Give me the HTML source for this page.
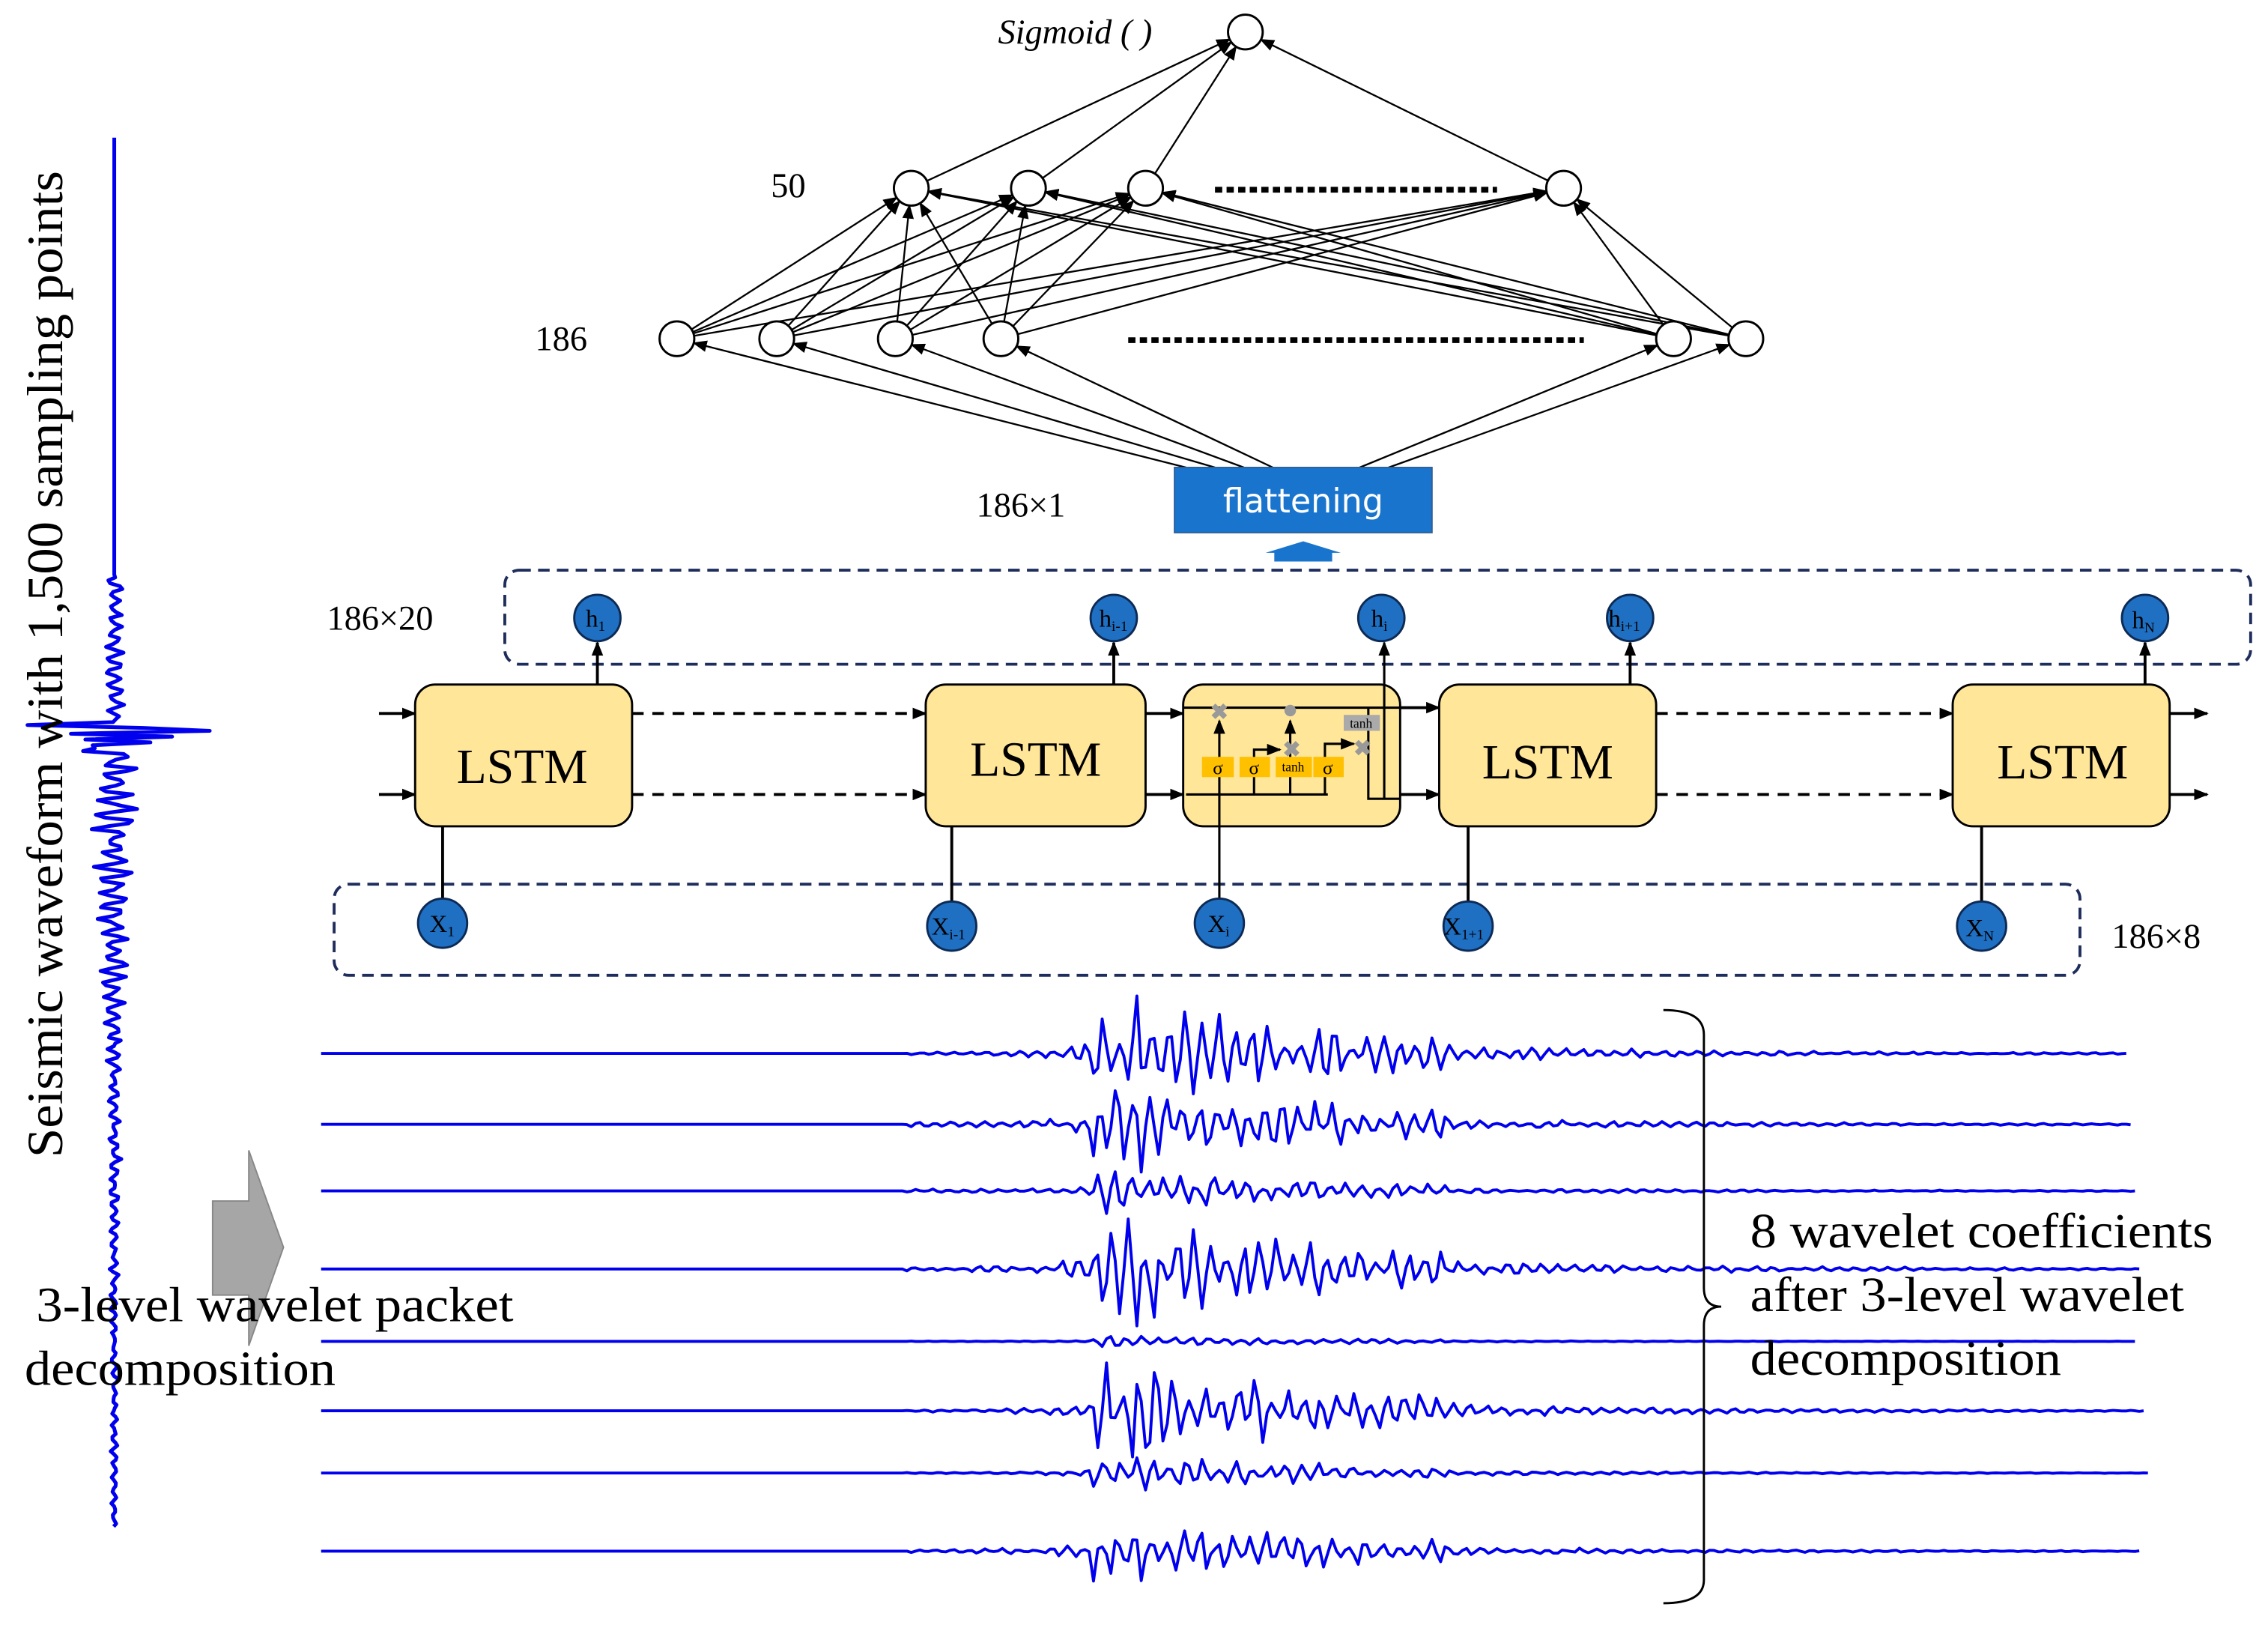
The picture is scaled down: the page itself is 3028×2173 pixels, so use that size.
<!DOCTYPE html>
<html><head><meta charset="utf-8"><style>
html,body{margin:0;padding:0;background:#fff;}
svg{display:block}
text{font-family:"Liberation Serif",serif;}
</style></head><body>
<svg id="s" width="3028" height="2173" viewBox="0 0 1568 1125" xmlns="http://www.w3.org/2000/svg">
<defs>
<marker id="a" markerWidth="10" markerHeight="8" refX="9" refY="4" orient="auto" markerUnits="userSpaceOnUse"><path d="M0,0 L10,4 L0,8 z" fill="#000"/></marker>
</defs>
<g id="net" stroke="#000" stroke-width="1.2" fill="none"></g>
<g id="waves" stroke="#0000ee" fill="none" stroke-linejoin="round"></g>

<g fill="#fff" stroke="#000" stroke-width="1.5">
<circle cx="861" cy="22" r="12"/>
<circle cx="630" cy="130" r="12"/><circle cx="711" cy="130" r="12"/><circle cx="792" cy="130" r="12"/><circle cx="1081" cy="130" r="12"/>
<circle cx="468" cy="234" r="12"/><circle cx="537" cy="234" r="12"/><circle cx="619" cy="234" r="12"/><circle cx="692" cy="234" r="12"/><circle cx="1157" cy="234" r="12"/><circle cx="1207" cy="234" r="12"/>
</g>
<line x1="840" y1="131" x2="1035" y2="131" stroke="#000" stroke-width="4" stroke-dasharray="5,3"/>
<line x1="780" y1="235" x2="1095" y2="235" stroke="#000" stroke-width="4" stroke-dasharray="5,3"/>
<text x="690" y="30" font-size="24" font-style="italic">Sigmoid ( )</text>
<text x="533" y="136" font-size="24">50</text>
<text x="370" y="242" font-size="24">186</text>
<text x="675" y="357" font-size="24">186×1</text>
<rect x="812" y="323" width="178" height="45" fill="#1874cd" stroke="#2e5f99"/>
<text x="901" y="354" font-size="23" fill="#fff" text-anchor="middle" style="font-family:'DejaVu Sans',sans-serif">flattening</text>
<path d="M881,388 L881,382 L875,382 L901,374 L927,382 L921,382 L921,388 z" fill="#1874cd"/>

<rect x="349" y="394" width="1207" height="65" rx="10" fill="none" stroke="#1f2d5c" stroke-width="2" stroke-dasharray="8,5"/>
<rect x="231" y="611" width="1207" height="63" rx="10" fill="none" stroke="#1f2d5c" stroke-width="2" stroke-dasharray="8,5"/>
<text x="226" y="435" font-size="24">186×20</text>
<text x="1460" y="655" font-size="24">186×8</text>

<g stroke="#000" stroke-width="2" fill="none">
<line x1="262" y1="493" x2="287" y2="493" marker-end="url(#a)"/>
<line x1="262" y1="549" x2="287" y2="549" marker-end="url(#a)"/>
<line x1="437" y1="493" x2="640" y2="493" stroke-dasharray="8,6" marker-end="url(#a)"/>
<line x1="437" y1="549" x2="640" y2="549" stroke-dasharray="8,6" marker-end="url(#a)"/>
<line x1="792" y1="493" x2="818" y2="493" marker-end="url(#a)"/>
<line x1="792" y1="549" x2="818" y2="549" marker-end="url(#a)"/>
<line x1="968" y1="489" x2="995" y2="489" marker-end="url(#a)"/>
<line x1="968" y1="549" x2="995" y2="549" marker-end="url(#a)"/>
<line x1="1145" y1="493" x2="1350" y2="493" stroke-dasharray="8,6" marker-end="url(#a)"/>
<line x1="1145" y1="549" x2="1350" y2="549" stroke-dasharray="8,6" marker-end="url(#a)"/>
<line x1="1500" y1="493" x2="1526" y2="493" marker-end="url(#a)"/>
<line x1="1500" y1="549" x2="1526" y2="549" marker-end="url(#a)"/>
<line x1="413" y1="473" x2="413" y2="444" marker-end="url(#a)"/>
<line x1="770" y1="473" x2="770" y2="444" marker-end="url(#a)"/>
<line x1="1127" y1="473" x2="1127" y2="444" marker-end="url(#a)"/>
<line x1="1483" y1="473" x2="1483" y2="444" marker-end="url(#a)"/>
<line x1="306" y1="571" x2="306" y2="624"/>
<line x1="658" y1="571" x2="658" y2="624"/>
<line x1="1015" y1="571" x2="1015" y2="624"/>
<line x1="1370" y1="571" x2="1370" y2="624"/>
</g>
<g fill="#ffe699" stroke="#000" stroke-width="1.5">
<rect x="287" y="473" width="150" height="98" rx="14"/>
<rect x="640" y="473" width="152" height="98" rx="14"/>
<rect x="818" y="473" width="150" height="98" rx="14"/>
<rect x="995" y="473" width="150" height="98" rx="14"/>
<rect x="1350" y="473" width="150" height="98" rx="14"/>
</g>
<g font-size="34" text-anchor="middle">
<text x="361" y="541">LSTM</text><text x="716" y="536">LSTM</text><text x="1070" y="538">LSTM</text><text x="1426" y="538">LSTM</text>
</g>
<g stroke="#000" stroke-width="1.6" fill="none">
<line x1="818" y1="489" x2="968" y2="489"/>
<line x1="843" y1="640" x2="843" y2="498" marker-end="url(#a)"/>
<polyline points="867,549 867,518 885,518" marker-end="url(#a)"/>
<line x1="892" y1="549" x2="892" y2="498" marker-end="url(#a)"/>
<polyline points="916,549 916,514 936,514" marker-end="url(#a)"/>
<polyline points="820,549 918,549"/>
<polyline points="946,489 946,552 968,552"/>
<line x1="957" y1="552" x2="957" y2="444" marker-end="url(#a)"/>
</g>
<g font-size="13" text-anchor="middle" style="font-family:'DejaVu Sans',sans-serif">
<rect x="831" y="523" width="22" height="14" fill="#ffc000"/><text x="842" y="535">σ</text>
<rect x="857" y="523" width="21" height="14" fill="#ffc000"/><text x="867" y="535">σ</text>
<rect x="882" y="523" width="25" height="14" fill="#ffc000"/><text x="894" y="533" font-size="9">tanh</text>
<rect x="908" y="523" width="21" height="14" fill="#ffc000"/><text x="918" y="535">σ</text>
<rect x="929" y="494" width="25" height="11" fill="#aaa"/><text x="941" y="503" font-size="9">tanh</text>
</g>
<g fill="#999" font-size="15" text-anchor="middle" font-weight="bold" style="font-family:'DejaVu Sans',sans-serif">
<text x="843" y="497">✖</text><text x="893" y="523">✖</text><text x="942" y="522">✖</text>
<circle cx="892" cy="491" r="4"/>
</g>
<g fill="#1f6fc2" stroke="#0d2a55" stroke-width="1.5">
<circle cx="413" cy="427" r="16"/><circle cx="770" cy="427" r="16"/><circle cx="955" cy="427" r="16"/><circle cx="1127" cy="427" r="16"/><circle cx="1483" cy="427" r="16"/>
<circle cx="306" cy="638" r="17"/><circle cx="658" cy="640" r="17"/><circle cx="843" cy="638" r="17"/><circle cx="1015" cy="640" r="17"/><circle cx="1370" cy="640" r="17"/>
</g>
<g font-size="17">
<text x="405" y="433">h<tspan font-size="10" dy="3">1</tspan></text>
<text x="760" y="433">h<tspan font-size="10" dy="3">i-1</tspan></text>
<text x="948" y="433">h<tspan font-size="10" dy="3">i</tspan></text>
<text x="1112" y="433">h<tspan font-size="10" dy="3">i+1</tspan></text>
<text x="1474" y="434">h<tspan font-size="10" dy="3">N</tspan></text>
<text x="297" y="644">X<tspan font-size="10" dy="3">1</tspan></text>
<text x="644" y="646">X<tspan font-size="10" dy="3">i-1</tspan></text>
<text x="835" y="644">X<tspan font-size="10" dy="3">i</tspan></text>
<text x="998" y="646">X<tspan font-size="10" dy="3">1+1</tspan></text>
<text x="1359" y="647">X<tspan font-size="10" dy="3">N</tspan></text>
</g>

<path d="M1150,698 Q1178,698 1178,715 L1178,890 Q1178,903 1190,903 Q1178,903 1178,916 L1178,1092 Q1178,1108 1150,1108" fill="none" stroke="#000" stroke-width="1.5"/>
<path d="M147,830 L172,830 L172,795 L196,862 L172,930 L172,895 L147,895 z" fill="#a6a6a6" stroke="#888"/>
<g font-size="34">
<text x="1210" y="862" textLength="320" lengthAdjust="spacingAndGlyphs">8 wavelet coefficients</text>
<text x="1210" y="906" textLength="300" lengthAdjust="spacingAndGlyphs">after 3-level wavelet</text>
<text x="1210" y="950" textLength="215" lengthAdjust="spacingAndGlyphs">decomposition</text>
<text x="25" y="913" textLength="330" lengthAdjust="spacingAndGlyphs">3-level wavelet packet</text>
<text x="17" y="957" textLength="215" lengthAdjust="spacingAndGlyphs">decomposition</text>
<text transform="translate(43,800) rotate(-90)" x="0" y="0" font-size="35" textLength="682" lengthAdjust="spacingAndGlyphs">Seismic waveform with 1,500 sampling points</text>
</g>
</svg>
<script>
(function(){
var NS="http://www.w3.org/2000/svg";
function ln(g,x1,y1,x2,y2){var l=document.createElementNS(NS,"line");l.setAttribute("x1",x1);l.setAttribute("y1",y1);l.setAttribute("x2",x2);l.setAttribute("y2",y2);l.setAttribute("marker-end","url(#a)");g.appendChild(l);}
var net=document.getElementById("net");
var L50=[630,711,792,1081],L186=[468,537,619,692,1157,1207];
L50.forEach(function(x){var dx=861-x,dy=22-130,d=Math.hypot(dx,dy);ln(net,x+dx/d*12,130+dy/d*12,861-dx/d*12,22-dy/d*12);});
L186.forEach(function(a){L50.forEach(function(b){var dx=b-a,dy=130-234,d=Math.hypot(dx,dy);ln(net,a+dx/d*12,234+dy/d*12,b-dx/d*12,130-dy/d*12);});});
var fx=[820,840,860,880,940,960];
L186.forEach(function(a,i){var sx=fx[i],sy=323,dx=a-sx,dy=234-sy,d=Math.hypot(dx,dy);ln(net,sx,sy,a-dx/d*12,234-dy/d*12);});
var seed=7;function r(){seed=(seed*16807)%2147483647;return seed/2147483647-0.5;}
var wg=document.getElementById("waves");
function poly(pts,w){var p=document.createElementNS(NS,"polyline");p.setAttribute("points",pts.join(" "));p.setAttribute("stroke-width",w);wg.appendChild(p);}
var ys=[728,777,823,877,927,975,1018,1072];
var amps=[[40,8],[30,14],[14,10],[40,16],[4,2],[36,8],[14,3],[22,12]];
var ends=[1470,1475,1478,1480,1478,1482,1485,1480];
ys.forEach(function(y,k){var pts=[];var A=amps[k][0],B=amps[k][1];
 for(var x=222;x<=ends[k];x+=3){var v=0;
  if(x>625){var t=x-765;var env;
   if(t<0)env=Math.exp(t/25)*0.3;else env=Math.exp(-t/180);
   if(t>-10&&t<30)env=1;
   v=(A*env+B*0.12*(x<1000?1:0.3))*Math.sin(x*0.55+k)*(0.6+r());
   if(x>1000)v*=0.5;}
  pts.push(x+","+(y+v).toFixed(1));}
 poly(pts,2);});
var pts=[];
var spike=[-60,20,66,-30,40,-20,25,-15,10];
for(var y=95;y<=1055;y+=2){var v=0;
 if(y>398){var t=y-505;var env;
  if(y<505)env=0.22; else env=Math.exp(-(t)/150)*0.8+0.05;
  v=30*env*Math.sin(y*0.7)*(0.6+r());
  if(y>=500&&y<=516){var s=spike[Math.floor((y-500)/2)];if(s!==undefined)v=s;}}
 pts.push((79+v).toFixed(1)+","+y);}
poly(pts,2.6);
})();
</script>
</body></html>
